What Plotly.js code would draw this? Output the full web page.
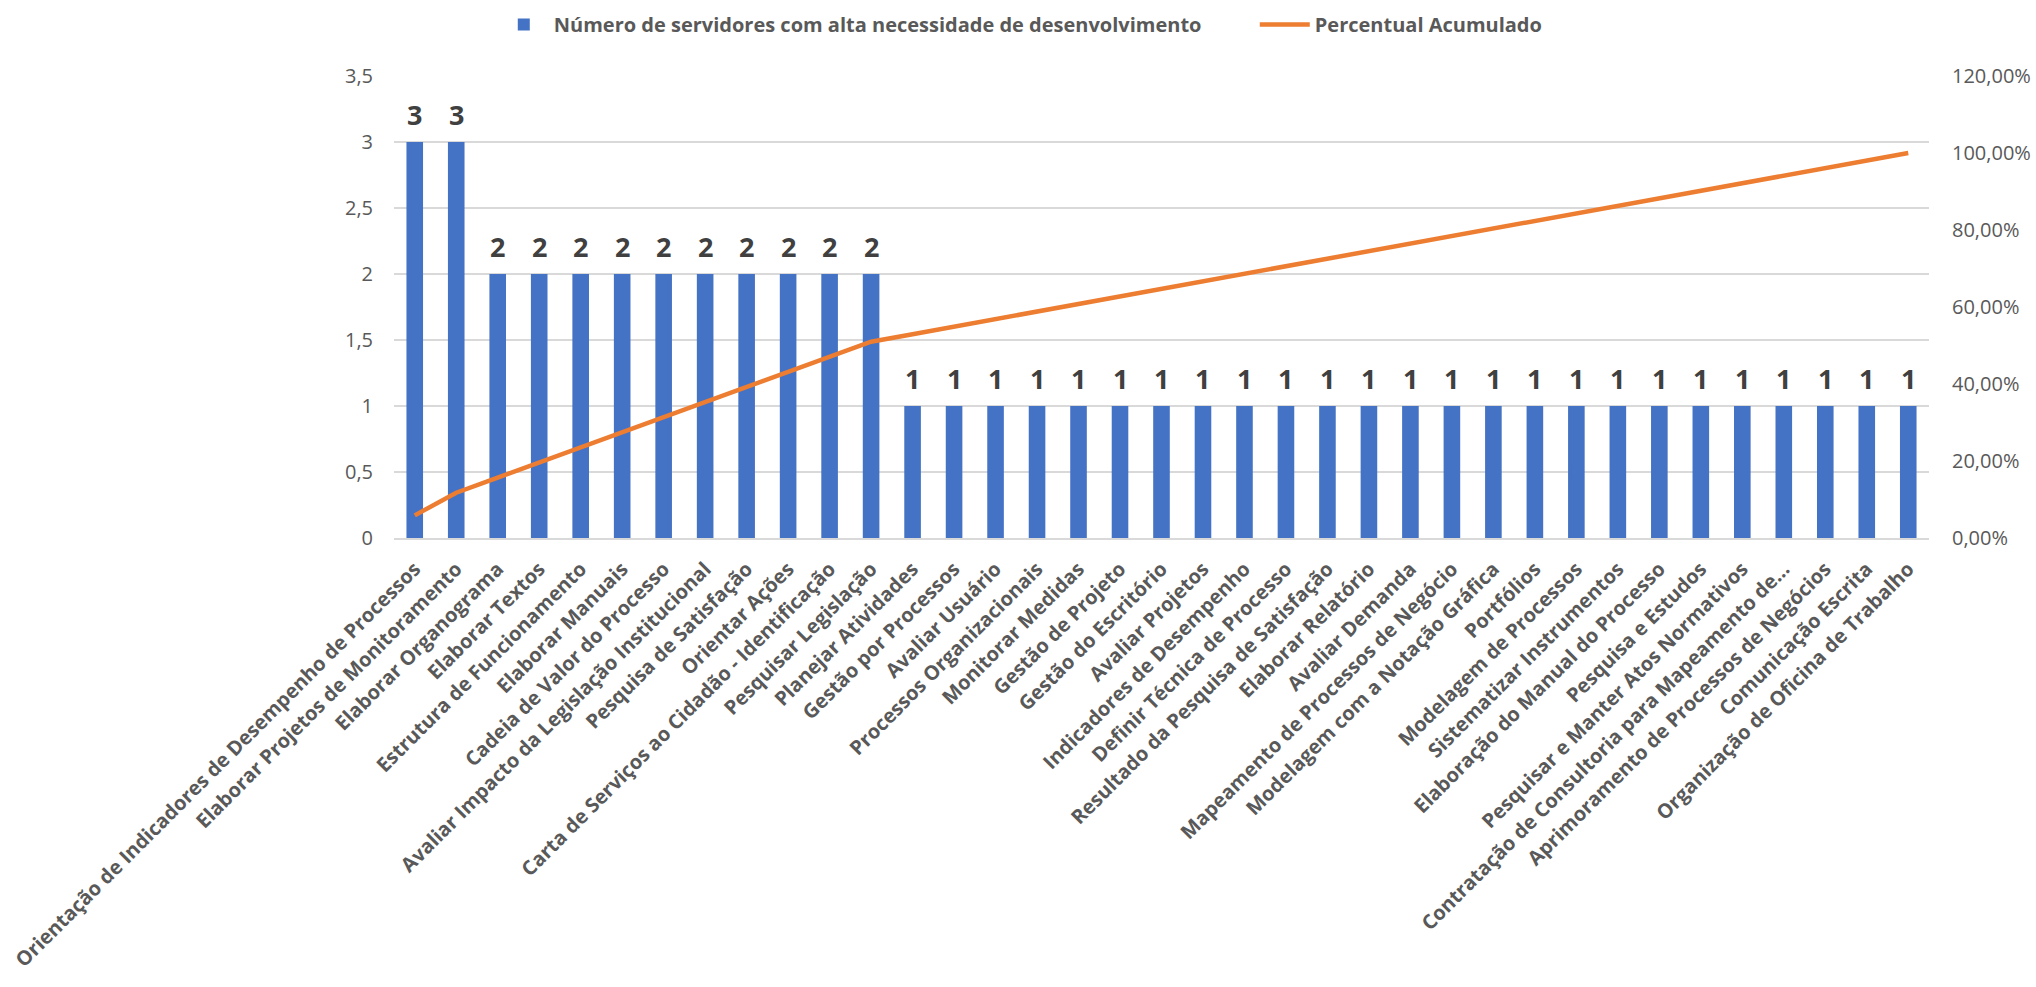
<!DOCTYPE html>
<html>
<head>
<meta charset="utf-8">
<script src="https://cdn.plot.ly/plotly-3.0.1.min.js"></script>
<style>html,body{margin:0;padding:0;background:#fff;}#chart{width:2036px;height:987px;}</style>
</head>
<body>
<div id="chart"></div>
<script>
const categories = [
  "Orientação de Indicadores de Desempenho de Processos",
  "Elaborar Projetos de Monitoramento",
  "Elaborar Organograma",
  "Elaborar Textos",
  "Estrutura de Funcionamento",
  "Elaborar Manuais",
  "Cadeia de Valor do Processo",
  "Avaliar Impacto da Legislação Institucional",
  "Pesquisa de Satisfação",
  "Orientar Ações",
  "Carta de Serviços ao Cidadão - Identificação",
  "Pesquisar Legislação",
  "Planejar Atividades",
  "Gestão por Processos",
  "Avaliar Usuário",
  "Processos Organizacionais",
  "Monitorar Medidas",
  "Gestão de Projeto",
  "Gestão do Escritório",
  "Avaliar Projetos",
  "Indicadores de Desempenho",
  "Definir Técnica de Processo",
  "Resultado da Pesquisa de Satisfação",
  "Elaborar Relatório",
  "Avaliar Demanda",
  "Mapeamento de Processos de Negócio",
  "Modelagem com a Notação Gráfica",
  "Portfólios",
  "Modelagem de Processos",
  "Sistematizar Instrumentos",
  "Elaboração do Manual do Processo",
  "Pesquisa e Estudos",
  "Pesquisar e Manter Atos Normativos",
  "Contratação de Consultoria para Mapeamento de...",
  "Aprimoramento de Processos de Negócios",
  "Comunicação Escrita",
  "Organização de Oficina de Trabalho"
];
const servidores = [3,3,2,2,2,2,2,2,2,2,2,2,1,1,1,1,1,1,1,1,1,1,1,1,1,1,1,1,1,1,1,1,1,1,1,1,1];
const percentualAcumulado = [5.88,11.76,15.69,19.61,23.53,27.45,31.37,35.29,39.22,43.14,47.06,50.98,
  52.94,54.90,56.86,58.82,60.78,62.75,64.71,66.67,68.63,70.59,72.55,74.51,76.47,78.43,80.39,82.35,
  84.31,86.27,88.24,90.20,92.16,94.12,96.08,98.04,100.00];
const leftTickVals = [0,0.5,1,1.5,2,2.5,3,3.5];
const leftTickText = ["0","0,5","1","1,5","2","2,5","3","3,5"];
const rightTickVals = [0,0.2,0.4,0.6,0.8,1.0,1.2];
const rightTickText = ["0,00%","20,00%","40,00%","60,00%","80,00%","100,00%","120,00%"];
const seriesNames = ["Número de servidores com alta necessidade de desenvolvimento","Percentual Acumulado"];

const FONT = "'Open Sans', 'Noto Sans', sans-serif";

const barTrace = {
  type: "bar",
  name: seriesNames[0],
  x: categories,
  y: servidores,
  marker: {color: "#4472C4"},
  yaxis: "y",
  hoverinfo: "x+y"
};
const lineTrace = {
  type: "scatter",
  mode: "lines",
  name: seriesNames[1],
  x: categories,
  y: percentualAcumulado.map(v => v / 100),
  yaxis: "y2",
  line: {color: "#ED7D31", width: 4.5}
};

const labelAnnotations = servidores.map((v, i) => ({
  x: categories[i], y: v, xref: "x", yref: "y",
  text: String(v), showarrow: false, yanchor: "middle", yshift: 28,
  font: {family: FONT, size: 27, color: "#404040", weight: 700}
}));

const layout = {
  width: 2036, height: 987,
  margin: {l: 394, r: 107, t: 76, b: 449, pad: 0},
  paper_bgcolor: "#ffffff", plot_bgcolor: "#ffffff",
  bargap: 0.6,
  showlegend: true,
  legend: {
    orientation: "h", x: 0.065, y: 0.995, xanchor: "left", yanchor: "top",
    yref: "container",
    font: {family: FONT, size: 20, color: "#595959", weight: 700},
    itemwidth: 50, traceorder: "normal",
    entrywidth: 696, entrywidthmode: "pixels"
  },
  xaxis: {
    type: "category", tickangle: -45, tickmode: "linear", dtick: 1,
    tickfont: {family: FONT, size: 20, color: "#595959", weight: 700},
    showline: true, linecolor: "#D9D9D9", linewidth: 1.5,
    ticks: "", showgrid: false, zeroline: false, automargin: false,
    ticklabelstandoff: 10
  },
  yaxis: {
    range: [0, 3.5], tickmode: "array", tickvals: leftTickVals, ticktext: leftTickText,
    tickfont: {family: FONT, size: 20, color: "#595959"},
    showgrid: true, gridcolor: "#D9D9D9", gridwidth: 1.5, zeroline: false,
    ticks: "", ticklabelstandoff: 20, automargin: false
  },
  yaxis2: {
    range: [0, 1.2], overlaying: "y", side: "right", tickmode: "array",
    tickvals: rightTickVals, ticktext: rightTickText,
    tickfont: {family: FONT, size: 20, color: "#595959"},
    showgrid: false, zeroline: false, ticks: "", ticklabelstandoff: 22, automargin: false
  },
  annotations: labelAnnotations
};

Plotly.newPlot("chart", [barTrace, lineTrace], layout, {displayModeBar: false, staticPlot: true});
</script>
</body>
</html>
